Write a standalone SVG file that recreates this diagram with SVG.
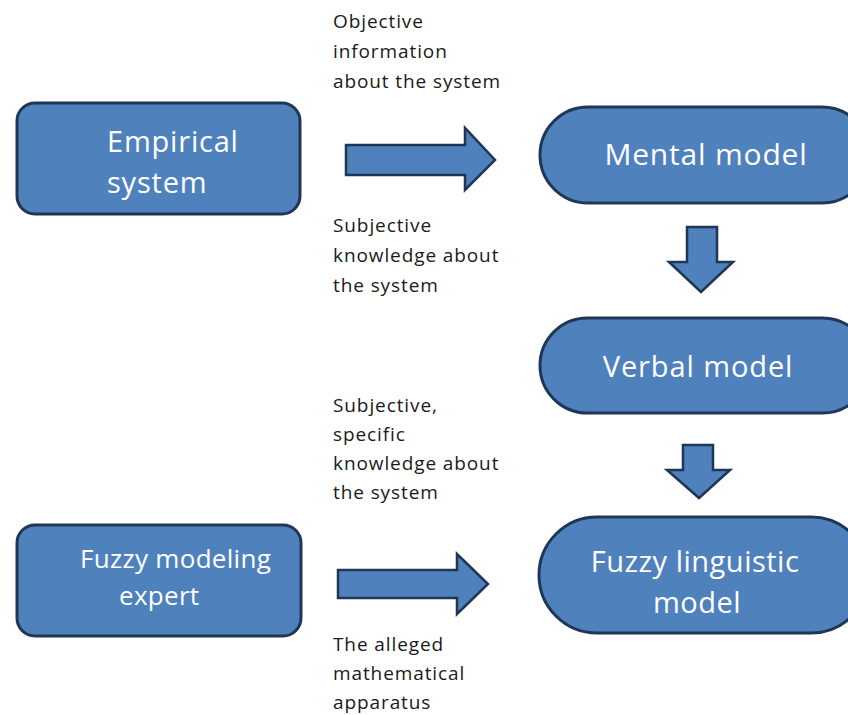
<svg xmlns="http://www.w3.org/2000/svg" width="848" height="715" viewBox="0 0 848 715">
<style>
.n{fill:#4F81BD;stroke:#1F3656;stroke-width:3}
.a{fill:#4F81BD;stroke:#1F3656;stroke-width:2.5;stroke-linejoin:miter}
.t{font-family:"Open Sans",Lato,sans-serif;font-size:29px;fill:#FFFFFF;font-variant-ligatures:none}
.l{font-family:"Open Sans",Lato,sans-serif;font-size:19px;letter-spacing:0.9px;fill:#1a1a1a;font-variant-ligatures:none}
</style>
<rect width="848" height="715" fill="#FFFFFF"/>
<g id="empirical">
<rect class="n" x="17" y="103" width="283" height="111" rx="18"/>
<text class="t" x="107" y="152" style="letter-spacing:0.8px">Empirical</text>
<text class="t" x="107" y="193" style="letter-spacing:0.8px">system</text>
</g>
<g id="mental">
<rect class="n" x="540" y="107" width="330" height="96" rx="48"/>
<text class="t" x="706" y="165" text-anchor="middle" style="font-size:30px;letter-spacing:0.8px">Mental model</text>
</g>
<g id="verbal">
<rect class="n" x="540" y="318" width="330" height="95" rx="47.5"/>
<text class="t" x="698" y="377" text-anchor="middle" style="letter-spacing:0.9px">Verbal model</text>
</g>
<g id="fuzzy-linguistic">
<rect class="n" x="539" y="517" width="330" height="116" rx="58"/>
<text class="t" x="695" y="572" text-anchor="middle" style="letter-spacing:0.5px">Fuzzy linguistic</text>
<text class="t" x="697" y="613" text-anchor="middle" style="letter-spacing:0.5px">model</text>
</g>
<g id="expert">
<rect class="n" x="17" y="525" width="284" height="111" rx="18"/>
<text class="t" x="80" y="568" style="font-size:26px;letter-spacing:0.3px">Fuzzy modeling</text>
<text class="t" x="119" y="605" style="font-size:26px;letter-spacing:0.3px">expert</text>
</g>
<g id="connectors">
<polygon class="a" points="346,145 465,145 465,128 495,160 465,190 465,175 346,175"/>
<polygon class="a" points="687,227 717,227 717,262 733,262 701,292 669,262 687,262"/>
<polygon class="a" points="683,445 713,445 713,470 730,470 699,498 667,470 683,470"/>
<polygon class="a" points="338,570 457,570 457,554 488,584 457,614 457,598 338,598"/>
</g>
<g id="labels">
<text class="l" x="333" y="28">Objective</text>
<text class="l" x="333" y="58">information</text>
<text class="l" x="333" y="88">about the system</text>
<text class="l" x="333" y="232">Subjective</text>
<text class="l" x="333" y="262">knowledge about</text>
<text class="l" x="333" y="292">the system</text>
<text class="l" x="333" y="412">Subjective,</text>
<text class="l" x="333" y="441">specific</text>
<text class="l" x="333" y="470">knowledge about</text>
<text class="l" x="333" y="499">the system</text>
<text class="l" x="333" y="651">The alleged</text>
<text class="l" x="333" y="680">mathematical</text>
<text class="l" x="333" y="709">apparatus</text>
</g>
</svg>
